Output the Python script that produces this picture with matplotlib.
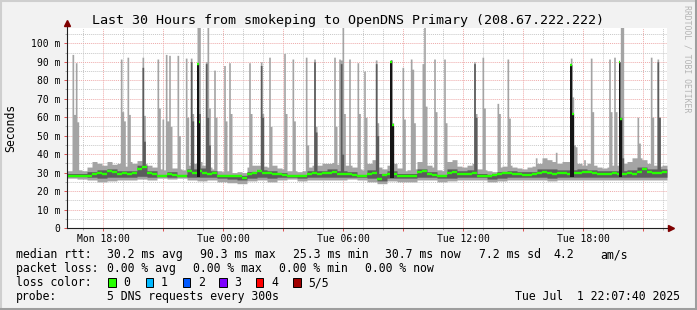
import numpy as np
import matplotlib
matplotlib.use("Agg")
import matplotlib.pyplot as plt
from matplotlib.ticker import MultipleLocator, FuncFormatter
from matplotlib.patches import Rectangle
from matplotlib.lines import Line2D

plt.rcParams['font.family'] = ['DejaVu Sans Mono']

# time axis: hours since Mon 00:00, one sample every 5 minutes
start_h = 16.2
step_h = 1 / 12
n_samples = 360

# median rtt per 15 min (ms)
med15 = [28, 28, 28, 28, 28, 29.5, 30, 29, 31, 30.5, 29.5, 30, 29, 30, 32, 33, 30, 29, 28, 28,
         29.5, 28.5, 28, 28, 31, 30, 31, 30, 29.5, 30, 28, 28, 28, 28, 28, 27, 29, 30, 31, 30,
         30, 29.5, 29.5, 28.5, 28, 28, 28, 28, 29.5, 30, 29.5, 30, 30, 30.5, 29.5, 29, 29, 28.5, 28, 28,
         29.5, 30, 26.5, 28.5, 29, 29.5, 28, 28, 28, 28, 30.5, 31, 29, 28.5, 28, 28, 30, 30.5, 29.5, 29,
         29.5, 30, 28, 28, 28, 28.5, 29.5, 30, 30, 29.5, 29, 28.5, 28.5, 29, 30, 30.5, 30, 29.5, 30, 30,
         29.5, 30, 30, 30.5, 30.5, 30, 29.5, 29, 29.5, 30, 29.5, 29, 30, 29, 30.5, 32, 30.5, 30, 30, 30.5]
# top of the smoke (slowest request) per 15 min
hi15 = [31, 30.5, 31.5, 31, 33, 36, 35, 34, 36, 34.5, 35, 33.5, 36, 35, 36.5, 35, 34, 33, 32, 31.5,
        33, 32.5, 32, 31.5, 34, 35, 36, 34, 33, 32, 31, 30.5, 31, 30, 30.5, 30, 33, 34, 34, 33.5,
        33, 34, 32.5, 32, 31, 31, 30.5, 31, 33, 34, 34, 35, 35, 35.5, 34.5, 34, 34, 33, 32, 31.5,
        35, 37, 33, 32, 34, 35, 32.5, 31, 31.5, 32, 36, 37, 34, 33, 31.5, 31, 36, 37, 33.5, 33,
        34, 35, 32, 31.5, 31, 30.5, 33, 33.5, 34, 33, 32.5, 32, 33, 33.5, 35, 38, 37, 36, 35, 36,
        36, 35, 35, 34, 35, 34, 33, 32.5, 33, 34, 34, 35, 36, 38, 38, 37, 35, 34, 33.5, 34]
# bottom of the smoke (fastest request) per 30 min
lo30 = [27, 26.5, 26, 25, 25.5, 26, 26, 26.5, 26, 27, 26.5, 27, 26, 25.5, 26, 25, 24.5, 24, 25.5, 26,
        25, 26, 26.5, 25.5, 26, 26, 26, 26, 26.5, 26, 25, 24, 25.5, 25, 25, 26, 26, 25, 25.5, 26,
        26, 26, 25, 25.5, 26, 26, 26, 26, 25.5, 26, 26, 26, 26, 26, 26, 26, 26, 26, 26, 26]
# inner smoke (2nd .. 4th request) per 30 min
inlo30 = [27.8, 27.8, 27.5, 27, 27.5, 27.5, 27.5, 28, 27.5, 27.8, 27.5, 27.8, 27.5, 27.5, 27.5, 27, 26.5, 26, 27, 27.5,
          27, 27.5, 27.5, 27, 27.5, 27.5, 27.5, 27.5, 27.5, 27.5, 27, 25.5, 27, 27, 27, 27.5, 27.5, 27, 27, 27.5,
          27.5, 27.5, 26.5, 27, 27.5, 27.5, 27.5, 27.5, 27, 27.5, 27.5, 27.5, 27.5, 27.5, 27.5, 27.5, 27.5, 27.5, 27.5, 27.5]
inhi30 = [29.5, 29.5, 30.5, 31.5, 32, 31, 31, 34, 31, 29, 30.5, 29, 32, 32.5, 31, 29, 28.5, 28.5, 30.5, 31.5,
          31, 30, 29, 29, 31, 31, 32, 31, 30.5, 29, 31.5, 29.5, 31, 29.5, 29.5, 32, 30.5, 29, 32, 31,
          31.5, 29.5, 29, 30.5, 31, 30.5, 30.5, 32, 32, 31.5, 31.5, 32, 31.5, 31, 31, 31, 31.5, 33, 32, 32]

# slow samples (sample index, slowest, 4th request, median; 0 = unchanged)
spike_idx = [3, 4, 5, 6, 32, 33, 34, 36, 37, 45, 46, 54, 55, 57, 59, 60, 61, 62, 66, 67,
             71, 72, 74, 75, 78, 79, 83, 84, 85, 88, 89, 94, 95, 97, 98, 109, 110, 116, 117, 121,
             122, 130, 131, 135, 136, 143, 144, 148, 149, 160, 161, 163, 164, 165, 166, 169, 174, 175, 178, 179,
             185, 186, 194, 195, 201, 202, 206, 207, 208, 213, 214, 215, 220, 221, 226, 227, 244, 245, 249, 250,
             258, 259, 264, 265, 281, 293, 302, 303, 304, 305, 310, 314, 315, 325, 326, 328, 329, 331, 332, 333,
             342, 343, 350, 351, 354, 355]
spike_max = [94, 61.5, 89.5, 57.5, 91.5, 63, 58, 92.5, 61.5, 92.5, 61, 91.5, 65, 59, 94, 58, 93.5, 55, 93.5, 50,
             92, 60, 92, 62, 125, 125, 90, 125, 65, 85.5, 60, 88, 58, 89.5, 62, 89.5, 62, 90, 62, 92.5,
             55, 94.5, 62, 91.5, 58, 92.5, 45, 91.5, 55, 92.5, 55, 91.5, 91, 125, 62, 91.5, 89.5, 62, 85, 60,
             91, 57, 91, 57, 87, 59, 91.5, 86, 57, 89, 125, 66, 91.5, 63, 91.5, 57, 90, 62, 92.5, 65,
             67.5, 62, 91.5, 59.5, 38, 41, 92, 71, 45, 44, 37, 92, 63, 91.5, 63, 92.5, 63, 90, 125, 125,
             60, 46, 92.5, 60, 91.5, 60]
spike_p4 = [0, 0, 0, 0, 0, 0, 0, 0, 0, 87, 47, 0, 0, 0, 0, 0, 0, 0, 0, 0,
            0, 0, 90, 58, 89, 62, 89, 60, 45, 0, 0, 0, 0, 0, 0, 0, 0, 88, 60, 0,
            0, 0, 0, 0, 0, 0, 0, 90, 52, 0, 0, 0, 89, 40, 0, 0, 0, 0, 0, 0,
            89, 50, 91, 55, 0, 0, 0, 0, 0, 0, 0, 0, 0, 0, 0, 0, 89, 60, 0, 0,
            0, 0, 0, 0, 0, 0, 88.5, 62, 0, 0, 0, 0, 0, 0, 0, 0, 0, 90, 60, 38,
            0, 0, 0, 0, 90, 60]
spike_med = [0, 0, 0, 0, 0, 0, 0, 0, 0, 0, 0, 0, 0, 0, 0, 0, 0, 0, 0, 0,
             0, 0, 0, 0, 89, 57.5, 0, 0, 0, 0, 0, 0, 0, 0, 0, 0, 0, 0, 0, 0,
             0, 0, 0, 0, 0, 0, 0, 0, 0, 0, 0, 0, 0, 0, 0, 0, 0, 0, 0, 0,
             0, 0, 90, 56, 0, 0, 0, 0, 0, 0, 0, 0, 0, 0, 0, 0, 0, 0, 0, 0,
             0, 0, 0, 0, 0, 0, 88.5, 62, 0, 0, 0, 0, 0, 0, 0, 0, 0, 90, 59, 0,
             0, 0, 0, 0, 0, 0]

tick_hours = [18, 24, 30, 36, 42]
tick_labels = ['Mon 18:00', 'Tue 00:00', 'Tue 06:00', 'Tue 12:00', 'Tue 18:00']

loss_labels = ['0', '1', '2', '3', '4', '5/5']
loss_colors = ['#26ff00', '#00b8ff', '#0059ff', '#7e00ff', '#ff0000', '#a00000']

# per-sample series
med = np.repeat(np.array(med15, float), 3)
hi = np.repeat(np.array(hi15, float), 3)
lo = np.repeat(np.array(lo30, float), 6)
inlo = np.repeat(np.array(inlo30, float), 6)
inhi = np.repeat(np.array(inhi30, float), 6)
black = np.zeros(n_samples, bool)
for i, mx, p4, m in zip(spike_idx, spike_max, spike_p4, spike_med):
    hi[i] = mx
    if p4:
        inhi[i] = p4
    if m:
        med[i] = m
        black[i] = True

t = start_h + np.arange(n_samples) * step_h
edges = start_h + np.arange(n_samples + 1) * step_h
ext = lambda a: np.append(a, a[-1])

W, H = 697, 310
fig = plt.figure(figsize=(W / 100, H / 100), dpi=100, facecolor='#f2f2f2')
ax = fig.add_axes([67 / W, (H - 228) / H, 600 / W, 200 / H])
ax.set_facecolor('white')

ax.fill_between(edges, ext(lo), ext(hi), step='post', color='#a4a4a4', lw=0)
ax.fill_between(edges, ext(inlo), ext(inhi), step='post', color='#5c5c5c', lw=0)
ax.bar(t[black], med[black] - inlo[black], bottom=inlo[black], width=step_h,
       align='edge', color='#151515', lw=0)
ax.hlines(med, t, t + step_h, colors='#26ff00', lw=1.7)

ax.set_xlim(start_h, start_h + n_samples * step_h)
ax.set_ylim(0, 108.3)
ax.xaxis.set_major_locator(MultipleLocator(3))
ax.xaxis.set_minor_locator(MultipleLocator(1))
ax.yaxis.set_major_locator(MultipleLocator(10))
ax.yaxis.set_minor_locator(MultipleLocator(5))
lab = dict(zip(tick_hours, tick_labels))
ax.xaxis.set_major_formatter(FuncFormatter(lambda v, p: lab.get(int(round(v)), '')))
ax.yaxis.set_major_formatter(FuncFormatter(lambda v, p: '0' if v == 0 else '%d m' % v))
ax.set_axisbelow(True)
ax.grid(which='minor', color='#c8c8c8', ls=(0, (1, 1)), lw=0.7)
ax.grid(which='major', color='#eeaaaa', ls=(0, (1, 1)), lw=0.7)
ax.tick_params(axis='x', which='major', length=2.2, width=0.7, color='#de5151', labelsize=7, pad=2.2)
ax.tick_params(axis='x', which='minor', length=1.5, width=0.7, color='#aaaaaa')
ax.tick_params(axis='y', which='major', length=2.2, width=0.7, color='#de5151', labelsize=7, pad=2.8)
ax.tick_params(axis='y', which='minor', length=1.5, width=0.7, color='#aaaaaa')
for s in ax.spines.values():
    s.set_visible(False)

# axes with arrows
ax.plot([0, 0], [0, 1.03], transform=ax.transAxes, color='#1f1f1f', lw=0.8, clip_on=False)
ax.plot([0, 1.008], [0, 0], transform=ax.transAxes, color='#1f1f1f', lw=0.8, clip_on=False)
ax.plot([0], [1.025], transform=ax.transAxes, marker='^', ms=4, color='#7f0000', clip_on=False)
ax.plot([1.006], [0], transform=ax.transAxes, marker='>', ms=4, color='#7f0000', clip_on=False)

def px(x, y):
    return x / W, 1 - y / H

fig.text(*px(347.5, 24), 'Last 30 Hours from smokeping to OpenDNS Primary (208.67.222.222)',
         ha='center', va='baseline', fontsize=9.6)
fig.text(*px(11, 128), 'Seconds', rotation=90, ha='center', va='center', fontsize=8.3)
fig.text(*px(687, 5), 'RRDTOOL / TOBI OETIKER', rotation=270, ha='center', va='top',
         fontsize=5.9, color='#b4b4b4')

fs = 8.3
rows = [
    (258.3, [(16, 'median rtt:'), (107.3, '30.2 ms avg'), (200, '90.3 ms max'), (293.3, '25.3 ms min'),
             (385, '30.7 ms now'), (479.3, '7.2 ms sd'), (553.3, '4.2'), (600, 'am/s')]),
    (272.3, [(16, 'packet loss:'), (107.3, '0.00 % avg'), (193.3, '0.00 % max'), (279.3, '0.00 % min'),
             (365, '0.00 % now')]),
    (286, [(16, 'loss color:')]),
    (299.7, [(16, 'probe:'), (107.3, '5 DNS requests every 300s')]),
]
for y, items in rows:
    for x, s in items:
        fig.text(*px(x, y), s, ha='left', va='baseline', fontsize=fs)
fig.text(*px(680, 299.7), 'Tue Jul  1 22:07:40 2025', ha='right', va='baseline', fontsize=fs)

box_x = [108.3, 145.7, 182.7, 219.3, 256, 293.3]
for bx, c, s in zip(box_x, loss_colors, loss_labels):
    fig.add_artist(Rectangle(px(bx, 286.5), 7.3 / W, 8.2 / H, transform=fig.transFigure,
                             fc=c, ec='black', lw=0.7))
    fig.text(*px(bx + 15, 286), s, ha='left', va='baseline', fontsize=fs)

# 3d frame
fig.add_artist(Line2D([0, 1], [1 - 1 / H, 1 - 1 / H], transform=fig.transFigure, color='#cfcfcf', lw=1.5))
fig.add_artist(Line2D([1 / W, 1 / W], [0, 1], transform=fig.transFigure, color='#cfcfcf', lw=1.5))
fig.add_artist(Line2D([0, 1], [1.5 / H, 1.5 / H], transform=fig.transFigure, color='#9e9e9e', lw=2.2))
fig.add_artist(Line2D([1 - 1.5 / W, 1 - 1.5 / W], [0, 1], transform=fig.transFigure, color='#9e9e9e', lw=2.2))

fig.savefig('out.png', dpi=100, facecolor=fig.get_facecolor())
